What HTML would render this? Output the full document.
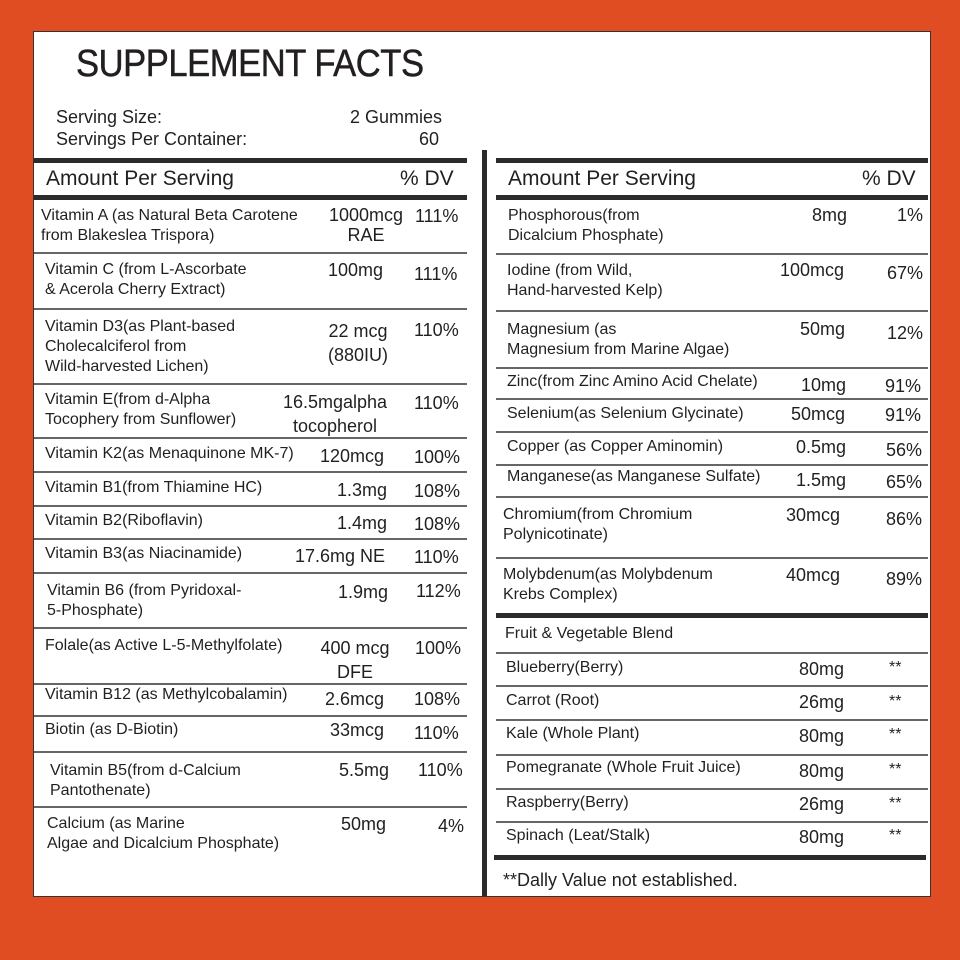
<!DOCTYPE html><html><head><meta charset="utf-8"><style>
body{margin:0;width:960px;height:960px;background:#E04D23;position:relative;overflow:hidden;font-family:"Liberation Sans",sans-serif;color:#231f20}
.box{position:absolute;left:33px;top:31px;width:896px;height:864px;background:#fff;border:1.5px solid #333}
.t{position:absolute;font-size:16px;line-height:20px;white-space:nowrap}
.h{position:absolute;height:5px;background:#2b2b2b}
.l{position:absolute;height:1.5px;background:#666}
</style></head><body>
<div class="box"></div>
<div class="t" style="left:76px;top:42px;font-size:38px;line-height:44px;letter-spacing:-0.5px;transform:scaleX(0.91);transform-origin:left top;-webkit-text-stroke:0.5px #231f20">SUPPLEMENT FACTS</div>
<div class="t" style="left:56px;top:107px;font-size:18px">Serving Size:</div>
<div class="t" style="left:56px;top:129px;font-size:18px">Servings Per Container:</div>
<div class="t" style="left:350px;top:107px;font-size:18px">2 Gummies</div>
<div class="t" style="left:419px;top:129px;font-size:18px">60</div>
<div style="position:absolute;left:482px;top:150px;width:5px;height:746px;background:#2b2b2b"></div>
<div class="h" style="left:34px;width:433px;top:158px"></div>
<div class="h" style="left:34px;width:433px;top:195px"></div>
<div class="h" style="left:496px;width:432px;top:158px"></div>
<div class="h" style="left:496px;width:432px;top:195px"></div>
<div class="t" style="left:46px;top:167px;font-size:21px;line-height:24px">Amount Per Serving</div>
<div class="t" style="left:400px;top:167px;font-size:21px;line-height:24px">% DV</div>
<div class="t" style="left:508px;top:167px;font-size:21px;line-height:24px">Amount Per Serving</div>
<div class="t" style="left:862px;top:167px;font-size:21px;line-height:24px">% DV</div>

<div class="l" style="left:34px;width:433px;top:252px"></div>
<div class="l" style="left:34px;width:433px;top:308px"></div>
<div class="l" style="left:34px;width:433px;top:383px"></div>
<div class="l" style="left:34px;width:433px;top:437px"></div>
<div class="l" style="left:34px;width:433px;top:471px"></div>
<div class="l" style="left:34px;width:433px;top:505px"></div>
<div class="l" style="left:34px;width:433px;top:538px"></div>
<div class="l" style="left:34px;width:433px;top:572px"></div>
<div class="l" style="left:34px;width:433px;top:627px"></div>
<div class="l" style="left:34px;width:433px;top:683px"></div>
<div class="l" style="left:34px;width:433px;top:715px"></div>
<div class="l" style="left:34px;width:433px;top:751px"></div>
<div class="l" style="left:34px;width:433px;top:806px"></div>

<div class="t" style="left:41px;top:206px">Vitamin A (as Natural Beta Carotene<br>from Blakeslea Trispora)</div>
<div class="t" style="left:326px;top:205px;font-size:18px;text-align:center;width:80px">1000mcg<br>RAE</div>
<div class="t" style="left:415px;top:206px;font-size:18px">111%</div>
<div class="t" style="left:45px;top:260px">Vitamin C (from L-Ascorbate<br>&amp; Acerola Cherry Extract)</div>
<div class="t" style="left:328px;top:260px;font-size:18px">100mg</div>
<div class="t" style="left:414px;top:264px;font-size:18px">111%</div>
<div class="t" style="left:45px;top:317px">Vitamin D3(as Plant-based<br>Cholecalciferol from<br>Wild-harvested Lichen)</div>
<div class="t" style="left:318px;top:319px;font-size:18px;text-align:center;width:80px;line-height:24px">22 mcg<br>(880IU)</div>
<div class="t" style="left:414px;top:320px;font-size:18px">110%</div>
<div class="t" style="left:45px;top:390px">Vitamin E(from d-Alpha<br>Tocophery from Sunflower)</div>
<div class="t" style="left:276px;top:390px;font-size:18px;line-height:24px;text-align:center;width:118px">16.5mgalpha<br>tocopherol</div>
<div class="t" style="left:414px;top:393px;font-size:18px">110%</div>
<div class="t" style="left:45px;top:444px">Vitamin K2(as Menaquinone MK-7)</div>
<div class="t" style="left:320px;top:446px;font-size:18px">120mcg</div>
<div class="t" style="left:414px;top:447px;font-size:18px">100%</div>
<div class="t" style="left:45px;top:478px">Vitamin B1(from Thiamine HC)</div>
<div class="t" style="left:337px;top:480px;font-size:18px">1.3mg</div>
<div class="t" style="left:414px;top:481px;font-size:18px">108%</div>
<div class="t" style="left:45px;top:511px">Vitamin B2(Riboflavin)</div>
<div class="t" style="left:337px;top:513px;font-size:18px">1.4mg</div>
<div class="t" style="left:414px;top:514px;font-size:18px">108%</div>
<div class="t" style="left:45px;top:544px">Vitamin B3(as Niacinamide)</div>
<div class="t" style="left:295px;top:546px;font-size:18px">17.6mg NE</div>
<div class="t" style="left:414px;top:547px;font-size:18px">110%</div>
<div class="t" style="left:47px;top:581px">Vitamin B6 (from Pyridoxal-<br>5-Phosphate)</div>
<div class="t" style="left:338px;top:582px;font-size:18px">1.9mg</div>
<div class="t" style="left:416px;top:581px;font-size:18px">112%</div>
<div class="t" style="left:45px;top:636px">Folale(as Active L-5-Methylfolate)</div>
<div class="t" style="left:310px;top:636px;font-size:18px;text-align:center;width:90px;line-height:24px">400 mcg<br>DFE</div>
<div class="t" style="left:415px;top:638px;font-size:18px">100%</div>
<div class="t" style="left:45px;top:685px">Vitamin B12 (as Methylcobalamin)</div>
<div class="t" style="left:325px;top:689px;font-size:18px">2.6mcg</div>
<div class="t" style="left:414px;top:689px;font-size:18px">108%</div>
<div class="t" style="left:45px;top:720px">Biotin (as D-Biotin)</div>
<div class="t" style="left:330px;top:720px;font-size:18px">33mcg</div>
<div class="t" style="left:414px;top:723px;font-size:18px">110%</div>
<div class="t" style="left:50px;top:761px">Vitamin B5(from d-Calcium<br>Pantothenate)</div>
<div class="t" style="left:339px;top:760px;font-size:18px">5.5mg</div>
<div class="t" style="left:418px;top:760px;font-size:18px">110%</div>
<div class="t" style="left:47px;top:814px">Calcium (as Marine<br>Algae and Dicalcium Phosphate)</div>
<div class="t" style="left:341px;top:814px;font-size:18px">50mg</div>
<div class="t" style="left:438px;top:816px;font-size:18px">4%</div>

<div class="l" style="left:496px;width:432px;top:253px"></div>
<div class="l" style="left:496px;width:432px;top:310px"></div>
<div class="l" style="left:496px;width:432px;top:367px"></div>
<div class="l" style="left:496px;width:432px;top:398px"></div>
<div class="l" style="left:496px;width:432px;top:431px"></div>
<div class="l" style="left:496px;width:432px;top:464px"></div>
<div class="l" style="left:496px;width:432px;top:496px"></div>
<div class="l" style="left:496px;width:432px;top:557px"></div>
<div class="h" style="left:496px;width:432px;top:613px"></div>
<div class="l" style="left:496px;width:432px;top:652px"></div>
<div class="l" style="left:496px;width:432px;top:685px"></div>
<div class="l" style="left:496px;width:432px;top:719px"></div>
<div class="l" style="left:496px;width:432px;top:754px"></div>
<div class="l" style="left:496px;width:432px;top:788px"></div>
<div class="l" style="left:496px;width:432px;top:821px"></div>
<div class="h" style="left:494px;width:432px;top:855px"></div>

<div class="t" style="left:508px;top:206px">Phosphorous(from<br>Dicalcium Phosphate)</div>
<div class="t" style="left:812px;top:205px;font-size:18px">8mg</div>
<div class="t" style="left:897px;top:205px;font-size:18px">1%</div>
<div class="t" style="left:507px;top:261px">Iodine (from Wild,<br>Hand-harvested Kelp)</div>
<div class="t" style="left:780px;top:260px;font-size:18px">100mcg</div>
<div class="t" style="left:887px;top:263px;font-size:18px">67%</div>
<div class="t" style="left:507px;top:320px">Magnesium (as<br>Magnesium from Marine Algae)</div>
<div class="t" style="left:800px;top:319px;font-size:18px">50mg</div>
<div class="t" style="left:887px;top:323px;font-size:18px">12%</div>
<div class="t" style="left:507px;top:372px">Zinc(from Zinc Amino Acid Chelate)</div>
<div class="t" style="left:801px;top:375px;font-size:18px">10mg</div>
<div class="t" style="left:885px;top:376px;font-size:18px">91%</div>
<div class="t" style="left:507px;top:404px">Selenium(as Selenium Glycinate)</div>
<div class="t" style="left:791px;top:404px;font-size:18px">50mcg</div>
<div class="t" style="left:885px;top:405px;font-size:18px">91%</div>
<div class="t" style="left:507px;top:437px">Copper (as Copper Aminomin)</div>
<div class="t" style="left:796px;top:437px;font-size:18px">0.5mg</div>
<div class="t" style="left:886px;top:440px;font-size:18px">56%</div>
<div class="t" style="left:507px;top:467px">Manganese(as Manganese Sulfate)</div>
<div class="t" style="left:796px;top:470px;font-size:18px">1.5mg</div>
<div class="t" style="left:886px;top:472px;font-size:18px">65%</div>
<div class="t" style="left:503px;top:505px">Chromium(from Chromium<br>Polynicotinate)</div>
<div class="t" style="left:786px;top:505px;font-size:18px">30mcg</div>
<div class="t" style="left:886px;top:509px;font-size:18px">86%</div>
<div class="t" style="left:503px;top:565px">Molybdenum(as Molybdenum<br>Krebs Complex)</div>
<div class="t" style="left:786px;top:565px;font-size:18px">40mcg</div>
<div class="t" style="left:886px;top:569px;font-size:18px">89%</div>
<div class="t" style="left:505px;top:624px">Fruit &amp; Vegetable Blend</div>
<div class="t" style="left:506px;top:658px">Blueberry(Berry)</div>
<div class="t" style="left:799px;top:659px;font-size:18px">80mg</div>
<div class="t" style="left:889px;top:658px">**</div>
<div class="t" style="left:506px;top:691px">Carrot (Root)</div>
<div class="t" style="left:799px;top:692px;font-size:18px">26mg</div>
<div class="t" style="left:889px;top:692px">**</div>
<div class="t" style="left:506px;top:724px">Kale (Whole Plant)</div>
<div class="t" style="left:799px;top:726px;font-size:18px">80mg</div>
<div class="t" style="left:889px;top:725px">**</div>
<div class="t" style="left:506px;top:758px">Pomegranate (Whole Fruit Juice)</div>
<div class="t" style="left:799px;top:761px;font-size:18px">80mg</div>
<div class="t" style="left:889px;top:760px">**</div>
<div class="t" style="left:506px;top:793px">Raspberry(Berry)</div>
<div class="t" style="left:799px;top:794px;font-size:18px">26mg</div>
<div class="t" style="left:889px;top:794px">**</div>
<div class="t" style="left:506px;top:826px">Spinach (Leat/Stalk)</div>
<div class="t" style="left:799px;top:827px;font-size:18px">80mg</div>
<div class="t" style="left:889px;top:826px">**</div>
<div class="t" style="left:503px;top:870px;font-size:18px">**Dally Value not established.</div>
</body></html>
